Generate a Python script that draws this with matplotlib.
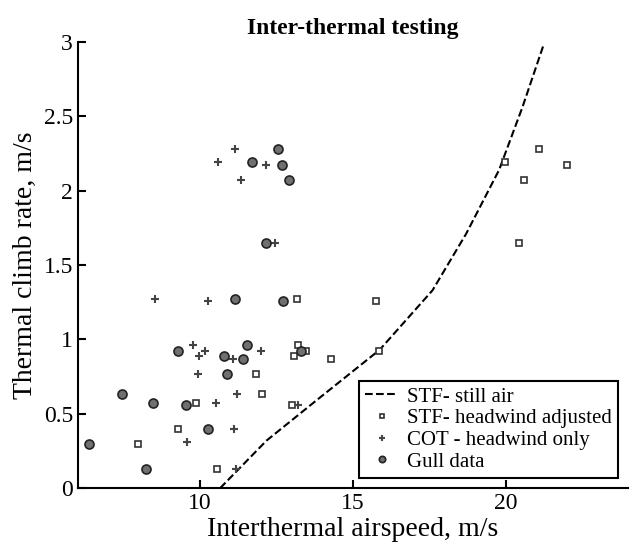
import matplotlib.pyplot as plt

# STF still-air curve
stf_x = [10.65, 12.17, 13.8, 15.87, 17.6, 18.7, 19.78, 20.54, 21.25]
stf_y = [0.0, 0.32, 0.59, 0.93, 1.33, 1.71, 2.14, 2.56, 2.99]

# STF headwind adjusted (squares)
sq_x = [7.96, 9.27, 9.86, 10.54, 11.83, 12.01, 13.0, 13.07, 13.16, 13.20, 13.46,
        14.27, 15.74, 15.85, 19.96, 21.1, 20.6, 22.0, 20.44]
sq_y = [0.30, 0.40, 0.57, 0.13, 0.77, 0.63, 0.56, 0.89, 1.27, 0.96, 0.92,
        0.87, 1.26, 0.92, 2.19, 2.28, 2.07, 2.17, 1.65]

# COT headwind only (plus)
cot_x = [8.53, 9.56, 9.77, 9.96, 10.15, 9.92, 10.26, 10.53, 10.58, 11.08, 11.09,
         11.14, 11.17, 11.21, 11.35, 11.98, 12.14, 12.46, 13.21]
cot_y = [1.27, 0.31, 0.96, 0.89, 0.92, 0.77, 1.26, 0.57, 2.19, 0.87, 0.40,
         2.28, 0.13, 0.63, 2.07, 0.92, 2.17, 1.65, 0.56]

# Gull data (circles)
gull_x = [6.36, 7.45, 8.21, 8.45, 9.27, 9.52, 10.26, 10.78, 10.89, 11.14, 11.41,
          11.54, 11.68, 12.14, 12.55, 12.67, 12.71, 12.92, 13.29]
gull_y = [0.30, 0.63, 0.13, 0.57, 0.92, 0.56, 0.40, 0.89, 0.77, 1.27, 0.87,
          0.96, 2.19, 1.65, 2.28, 2.17, 1.26, 2.07, 0.92]

plt.rcParams['font.family'] = ['Liberation Serif', 'DejaVu Serif']

fig = plt.figure(figsize=(6.39, 5.51), dpi=100)
ax = fig.add_axes([0.122, 0.114, 0.861, 0.81])

ax.plot(stf_x, stf_y, 'k--', lw=1.5, label='STF- still air')
ax.plot(sq_x, sq_y, 's', ms=5, mfc='white', mec='#333333', mew=1.2, ls='none',
        label='STF- headwind adjusted')
ax.plot(cot_x, cot_y, '+', ms=6, mec='#444444', mew=1.5, ls='none',
        label='COT - headwind only')
ax.plot(gull_x, gull_y, 'o', ms=6.5, mfc='#707070', mec='#222222', mew=1.2, ls='none',
        label='Gull data')

ax.set_xlim(6, 24)
ax.set_ylim(0, 3)
ax.set_xticks([10, 15, 20])
ax.set_yticks([0, 0.5, 1, 1.5, 2, 2.5, 3])
ax.set_yticklabels(['0', '0.5', '1', '1.5', '2', '2.5', '3'])
ax.tick_params(direction='in', labelsize=17, width=1.5, length=6)
ax.spines['top'].set_visible(False)
ax.spines['right'].set_visible(False)
ax.spines['left'].set_linewidth(1.5)
ax.spines['bottom'].set_linewidth(1.5)

ax.set_xlabel('Interthermal airspeed, m/s', fontsize=20, labelpad=2)
ax.set_ylabel('Thermal climb rate, m/s', fontsize=20)
ax.set_title('Inter-thermal testing', fontsize=17, fontweight='bold')

leg = ax.legend(loc='lower right', fontsize=15, fancybox=False, edgecolor='black',
                framealpha=1, borderpad=0.3, labelspacing=0.1, handlelength=1.6,
                handletextpad=0.4, markerscale=0.7)
leg.get_frame().set_linewidth(1.5)

fig.savefig('out.png', dpi=100)
